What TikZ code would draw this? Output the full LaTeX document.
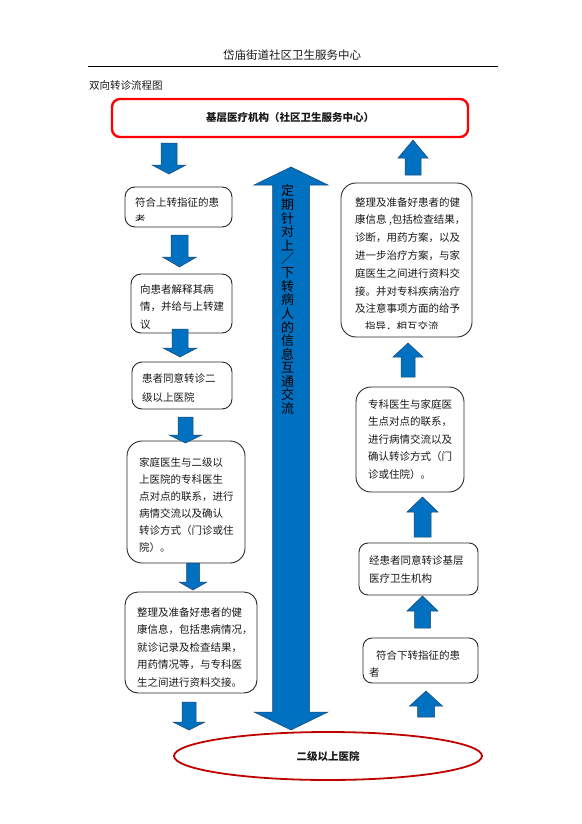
\documentclass[tikz,border=0pt]{standalone}
\usepackage{fontspec}
\setmainfont{Noto Sans CJK SC}
\usetikzlibrary{shapes.geometric}
\definecolor{arrblue}{RGB}{0,112,192}
\definecolor{arredge}{RGB}{30,70,110}
\definecolor{boxgray}{RGB}{40,40,40}
\definecolor{txtgray}{RGB}{25,25,25}
\definecolor{redbox}{RGB}{255,0,0}
\definecolor{ellred}{RGB}{192,0,0}
% block arrow: centre x, shaft end y, half shaft, half head, head base y, tip y
\newcommand\blkarrow[6]{\draw[blockarr] ({#1-#3},#2) -- ({#1+#3},#2) -- ({#1+#3},#5) -- ({#1+#4},#5) -- (#1,#6) -- ({#1-#4},#5) -- ({#1-#3},#5) -- cycle;}
\begin{document}
\begin{tikzpicture}[x=1pt,y=-1pt,
  box/.style={draw=boxgray, line width=0.9pt, rounded corners=10pt, inner sep=0pt},
  txt/.style={anchor=north west, inner sep=0pt, align=left, text=txtgray},
  blockarr/.style={fill=arrblue, draw=arredge, line width=0.5pt},
  vchar/.style={inner sep=0pt, text=black, font=\fontsize{13}{13}\selectfont}]
\useasboundingbox (0,0) rectangle (581,824);
\fill[white] (0,0) rectangle (581,824);

% header
\node[inner sep=0pt, text=txtgray, font=\fontsize{11.5}{12}\selectfont] (head) at (292,55) {岱庙街道社区卫生服务中心};
\draw[line width=0.8pt] (88,66) coordinate (hl) -- (498,66) coordinate (hr);
\node[anchor=west, inner sep=0pt, text=txtgray, font=\fontsize{10.5}{12}\selectfont] (title) at (89,86) {双向转诊流程图};

% top red box
\node[draw=redbox, line width=2.4pt, rounded corners=8pt, minimum width=356pt, minimum height=38pt, inner sep=0pt,
      font=\bfseries\fontsize{10.5}{12}\selectfont, text=txtgray] (top) at (290,118) {基层医疗机构（社区卫生服务中心）};

% bottom ellipse
\node[ellipse, draw=ellred, line width=1.8pt, minimum width=308pt, minimum height=48pt, inner sep=0pt,
      font=\bfseries\fontsize{10.5}{12}\selectfont, text=txtgray] (bot) at (328,756) {二级以上医院};

% left column boxes
\node[box, minimum width=107pt, minimum height=40pt] (L1) at (178.5,207) {};
\begin{scope}
\clip (125,187) rectangle (232,220);
\node[txt, font=\fontsize{10.5}{17.5}\selectfont] (t1) at (135,197) {符合上转指征的患\\者};
\end{scope}

\node[box, minimum width=101pt, minimum height=59pt] (L2) at (181.5,303.5) {};
\begin{scope}
\clip (131,274) rectangle (232,328);
\node[txt, font=\fontsize{10.5}{17.5}\selectfont] (t2) at (140,284) {向患者解释其病\\情，并给与上转建\\议};
\end{scope}

\node[box, minimum width=100pt, minimum height=47pt] (L3) at (182,385.5) {};
\node[txt, font=\fontsize{10.5}{19}\selectfont] (t3) at (142,373) {患者同意转诊二\\级以上医院};

\node[box, rounded corners=15pt, minimum width=118pt, minimum height=122pt] (L4) at (186,502) {};
\node[txt, font=\fontsize{10.5}{17}\selectfont] (t4) at (139,457) {家庭医生与二级以\\上医院的专科医生\\点对点的联系，进行\\病情交流以及确认\\转诊方式（门诊或住\\院）。};

\node[box, rounded corners=13pt, minimum width=132pt, minimum height=101pt] (L5) at (191,642.5) {};
\node[txt, font=\fontsize{10.5}{17.5}\selectfont] (t5) at (137,607) {整理及准备好患者的健\\康信息，包括患病情况，\\就诊记录及检查结果，\\用药情况等，与专科医\\生之间进行资料交接。};

% right column boxes
\node[box, rounded corners=15pt, minimum width=131pt, minimum height=154pt] (R1) at (406.5,260) {};
\begin{scope}
\clip (341,183) rectangle (472,328);
\node[txt, font=\fontsize{10.5}{17.8}\selectfont] (r1) at (355,197) {整理及准备好患者的健\\康信息 ,包括检查结果，\\诊断，用药方案，以及\\进一步治疗方案，与家\\庭医生之间进行资料交\\接。并对专科疾病治疗\\及注意事项方面的给予\\\hspace*{10pt}指导，相互交流};
\end{scope}

\node[box, rounded corners=15pt, minimum width=108pt, minimum height=105pt] (R2) at (410,439.5) {};
\node[txt, font=\fontsize{10.5}{17.6}\selectfont] (r2) at (368,399) {专科医生与家庭医\\生点对点的联系，\\进行病情交流以及\\确认转诊方式（门\\诊或住院）。};

\node[box, rounded corners=9pt, minimum width=119pt, minimum height=52pt] (R3) at (418.5,569) {};
\node[txt, font=\fontsize{10.5}{18}\selectfont] (r3) at (369,555) {经患者同意转诊基层\\医疗卫生机构};

\node[box, rounded corners=9pt, minimum width=115pt, minimum height=45pt] (R4) at (420.5,660.5) {};
\node[txt, font=\fontsize{10.5}{17}\selectfont] (r4) at (369,650) {\hspace*{7pt}符合下转指征的患\\者};

% left downward arrows
\blkarrow{169}{143}{8}{17}{165}{174}
\blkarrow{179.5}{235}{8.5}{17}{257}{267}
\blkarrow{180}{329}{8}{17}{348}{357}
\blkarrow{185.5}{417}{7.5}{16.5}{435}{443}
\blkarrow{193}{563}{6.5}{14}{582}{590}
\blkarrow{189}{702}{7}{16}{722}{730}

% right upward arrows
\blkarrow{413}{175}{8}{15}{158}{140}
\blkarrow{408}{377}{7}{15}{357}{343}
\blkarrow{422.5}{537}{8.5}{15.5}{512}{497}
\blkarrow{422.5}{628}{8}{15.5}{611}{596}
\blkarrow{426}{717}{8.5}{16.5}{706}{691}

% central double arrow
\draw[blockarr] (291,167) -- (328,185) -- (309.5,185) -- (309.5,712) -- (328,712) -- (291,730)
  -- (254,712) -- (272.5,712) -- (272.5,185) -- (254,185) -- cycle;
\foreach \c [count=\i] in {定,期,针,对,上,／,下,转,病,人,的,信,息,互,通,交,流}
  \node[vchar] (v\i) at (287.5,{191+13.6*(\i-1)}) {\c};
\end{tikzpicture}
\end{document}
